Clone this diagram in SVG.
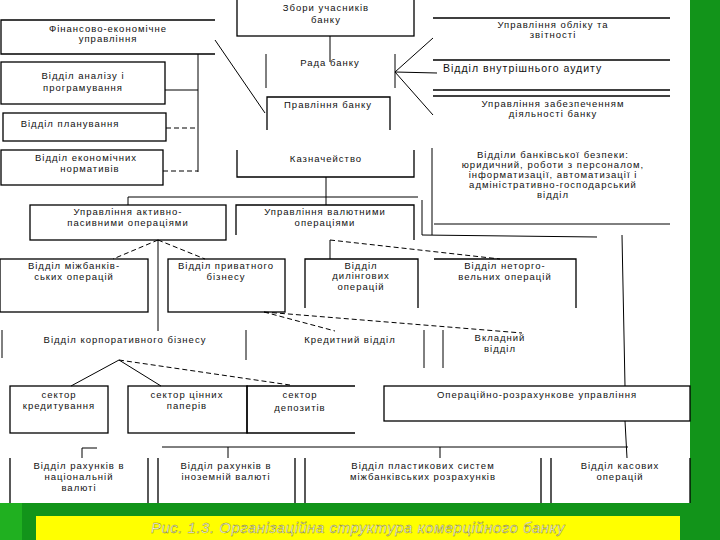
<svg xmlns="http://www.w3.org/2000/svg" width="720" height="540" viewBox="0 0 720 540">
<style>
.b{fill:none;stroke:#000;stroke-width:1.3}
.l{fill:none;stroke:#000;stroke-width:1}
.d{fill:none;stroke:#000;stroke-width:1;stroke-dasharray:5 3}
text{font-family:"Liberation Sans",Arial,sans-serif;font-size:9.5px;letter-spacing:1px;fill:#111;text-anchor:middle}
.cap{font-size:15px;font-style:italic;fill:#fff;stroke:#7a7a00;stroke-width:0.4;letter-spacing:0.5px}
</style>
<rect width="720" height="540" fill="#fff"/>
<rect x="690" y="0" width="30" height="540" fill="#12941a"/>
<rect x="0" y="503" width="720" height="37" fill="#12941a"/>
<rect x="0" y="503" width="22" height="37" fill="#20b020"/>
<rect x="36" y="516" width="644" height="24" fill="#ffff00"/>
<text class="cap" x="358" y="533">Рис. 1.3. Організаційна структура комерційного банку</text>

<g id="connectors">
<line class="l" x1="330" y1="36" x2="330" y2="62"/>
<line class="l" x1="266" y1="54" x2="266" y2="88"/>
<line class="l" x1="395" y1="54" x2="395" y2="88"/>
<line class="l" x1="215" y1="40" x2="265" y2="113"/>
<line class="l" x1="395" y1="72" x2="433" y2="38"/>
<line class="l" x1="395" y1="72" x2="437" y2="73"/>
<line class="l" x1="395" y1="72" x2="433" y2="115"/>
<line class="l" x1="198" y1="54" x2="198" y2="172"/>
<line class="l" x1="165" y1="90" x2="198" y2="90"/>
<line class="d" x1="166" y1="128" x2="198" y2="128"/>
<line class="d" x1="163" y1="171" x2="198" y2="171"/>
<line class="l" x1="326" y1="177" x2="326" y2="205"/>
<line class="l" x1="128" y1="197" x2="418" y2="197"/>
<line class="l" x1="128" y1="197" x2="128" y2="205"/>
<line class="l" x1="432" y1="148" x2="432" y2="235"/>
<line class="l" x1="422" y1="200" x2="422" y2="235"/>
<line class="l" x1="422" y1="235" x2="597" y2="237"/>
<line class="l" x1="434" y1="224" x2="670" y2="224"/>
<line class="l" x1="622" y1="235" x2="625" y2="386"/>
<line class="d" x1="158" y1="240" x2="113" y2="259"/>
<line class="l" x1="158" y1="240" x2="158" y2="331"/>
<line class="d" x1="158" y1="240" x2="205" y2="259"/>
<line class="l" x1="330" y1="240" x2="330" y2="259"/>
<line class="d" x1="330" y1="240" x2="500" y2="259"/>
<line class="d" x1="264" y1="312" x2="335" y2="331"/>
<line class="d" x1="264" y1="312" x2="522" y2="333"/>
<line class="l" x1="2" y1="330" x2="2" y2="358"/>
<line class="l" x1="246" y1="330" x2="246" y2="360"/>
<line class="l" x1="424" y1="330" x2="424" y2="368"/>
<line class="l" x1="443" y1="330" x2="443" y2="368"/>
<line class="l" x1="119" y1="360" x2="71" y2="386"/>
<line class="l" x1="119" y1="360" x2="161" y2="386"/>
<line class="d" x1="119" y1="360" x2="290" y2="385"/>
<line class="l" x1="625" y1="421" x2="627" y2="458"/>
<line class="l" x1="162" y1="447" x2="628" y2="447"/>
<line class="l" x1="228" y1="447" x2="228" y2="458"/>
<line class="l" x1="440" y1="447" x2="440" y2="458"/>
<line class="l" x1="82" y1="448" x2="82" y2="458"/>
<line class="l" x1="82" y1="448" x2="97" y2="448"/>
</g>

<g id="zbory"><rect class="b" x="237" y="-2" width="177" height="38"/><text x="326" y="11">Збори учасників</text><text x="326" y="23">банку</text></g>
<g id="fin"><path class="b" d="M215 20H1V54H215"/><text x="108" y="32">Фінансово-економічне</text><text x="108" y="42">управління</text></g>
<g id="rada"><text x="330" y="66">Рада банку</text></g>
<g id="pravl"><path class="b" d="M267 130V97H390V130"/><text x="328" y="108">Правління банку</text></g>
<g id="analiz"><rect class="b" x="1" y="62" width="164" height="42"/><text x="83" y="79">Відділ аналізу і</text><text x="83" y="91">програмування</text></g>
<g id="plan"><rect class="b" x="3" y="113" width="163" height="28"/><text x="70" y="127">Відділ планування</text></g>
<g id="norm"><rect class="b" x="1" y="150" width="162" height="35"/><text x="86" y="161">Відділ економічних</text><text x="90" y="172">нормативів</text></g>
<g id="kazn"><path class="b" d="M237 150V177H414V150"/><text x="326" y="162">Казначейство</text></g>
<g id="oblik"><path class="b" d="M433 18H670M433 60H670"/><text x="553" y="28">Управління обліку та</text><text x="553" y="38">звітності</text></g>
<g id="audit"><path class="b" d="M433 90H670"/><text x="443" y="72" style="text-anchor:start;font-size:10.5px">Відділ внутрішнього аудиту</text></g>
<g id="zabezp"><path class="b" d="M433 96H670"/><text x="553" y="107">Управління забезпеченням</text><text x="553" y="117">діяльності банку</text></g>
<g id="bezpeka"><text x="553" y="158">Відділи банківської безпеки:</text><text x="553" y="168">юридичний, роботи з персоналом,</text><text x="553" y="178">інформатизації, автоматизації і</text><text x="553" y="188">адміністративно-господарський</text><text x="553" y="198">відділ</text></g>
<g id="akt"><rect class="b" x="30" y="205" width="196" height="35"/><text x="128" y="215">Управління активно-</text><text x="128" y="226">пасивними операціями</text></g>
<g id="valut"><path class="b" d="M236 235V205H414V240"/><text x="325" y="215">Управління валютними</text><text x="325" y="226">операціями</text></g>
<g id="mizhb"><rect class="b" x="0" y="259" width="148" height="53"/><text x="74" y="269">Відділ міжбанків-</text><text x="74" y="280">ських операцій</text></g>
<g id="pryv"><rect class="b" x="168" y="259" width="117" height="53"/><text x="226" y="269">Відділ приватного</text><text x="226" y="280">бізнесу</text></g>
<g id="dyl"><path class="b" d="M305 308V259H418V308"/><text x="361" y="269">Відділ</text><text x="361" y="279">дилінгових</text><text x="361" y="290">операцій</text></g>
<g id="netorg"><path class="b" d="M434 259H576V308"/><text x="505" y="269">Відділ неторго-</text><text x="505" y="280">вельних операцій</text></g>
<g id="korp"><text x="125" y="343">Відділ корпоративного бізнесу</text></g>
<g id="kred"><text x="350" y="343">Кредитний відділ</text></g>
<g id="vkl"><text x="500" y="341">Вкладний</text><text x="500" y="352">відділ</text></g>
<g id="s1"><rect class="b" x="10" y="386" width="98" height="47"/><text x="59" y="398">сектор</text><text x="59" y="409">кредитування</text></g>
<g id="s2"><rect class="b" x="128" y="386" width="119" height="47"/><text x="187" y="398">сектор цінних</text><text x="187" y="409">паперів</text></g>
<g id="s3"><path class="b" d="M355 386H247V433H355"/><text x="300" y="398">сектор</text><text x="300" y="411">депозитів</text></g>
<g id="oper"><rect class="b" x="384" y="386" width="306" height="35"/><text x="537" y="398">Операційно-розрахункове управління</text></g>
<g id="b1"><path class="b" d="M10 503V458M148 458V503"/><text x="79" y="469">Відділ рахунків в</text><text x="79" y="480">національній</text><text x="79" y="491">валюті</text></g>
<g id="b2"><path class="b" d="M158 503V458M295 458V503"/><text x="226" y="469">Відділ рахунків в</text><text x="226" y="480">іноземній валюті</text></g>
<g id="b3"><path class="b" d="M305 503V458M541 458V503"/><text x="423" y="469">Відділ пластикових систем</text><text x="423" y="480">міжбанківських розрахунків</text></g>
<g id="b4"><path class="b" d="M551 503V458M690 458V503"/><text x="620" y="469">Відділ касових</text><text x="620" y="480">операцій</text></g>
</svg>
